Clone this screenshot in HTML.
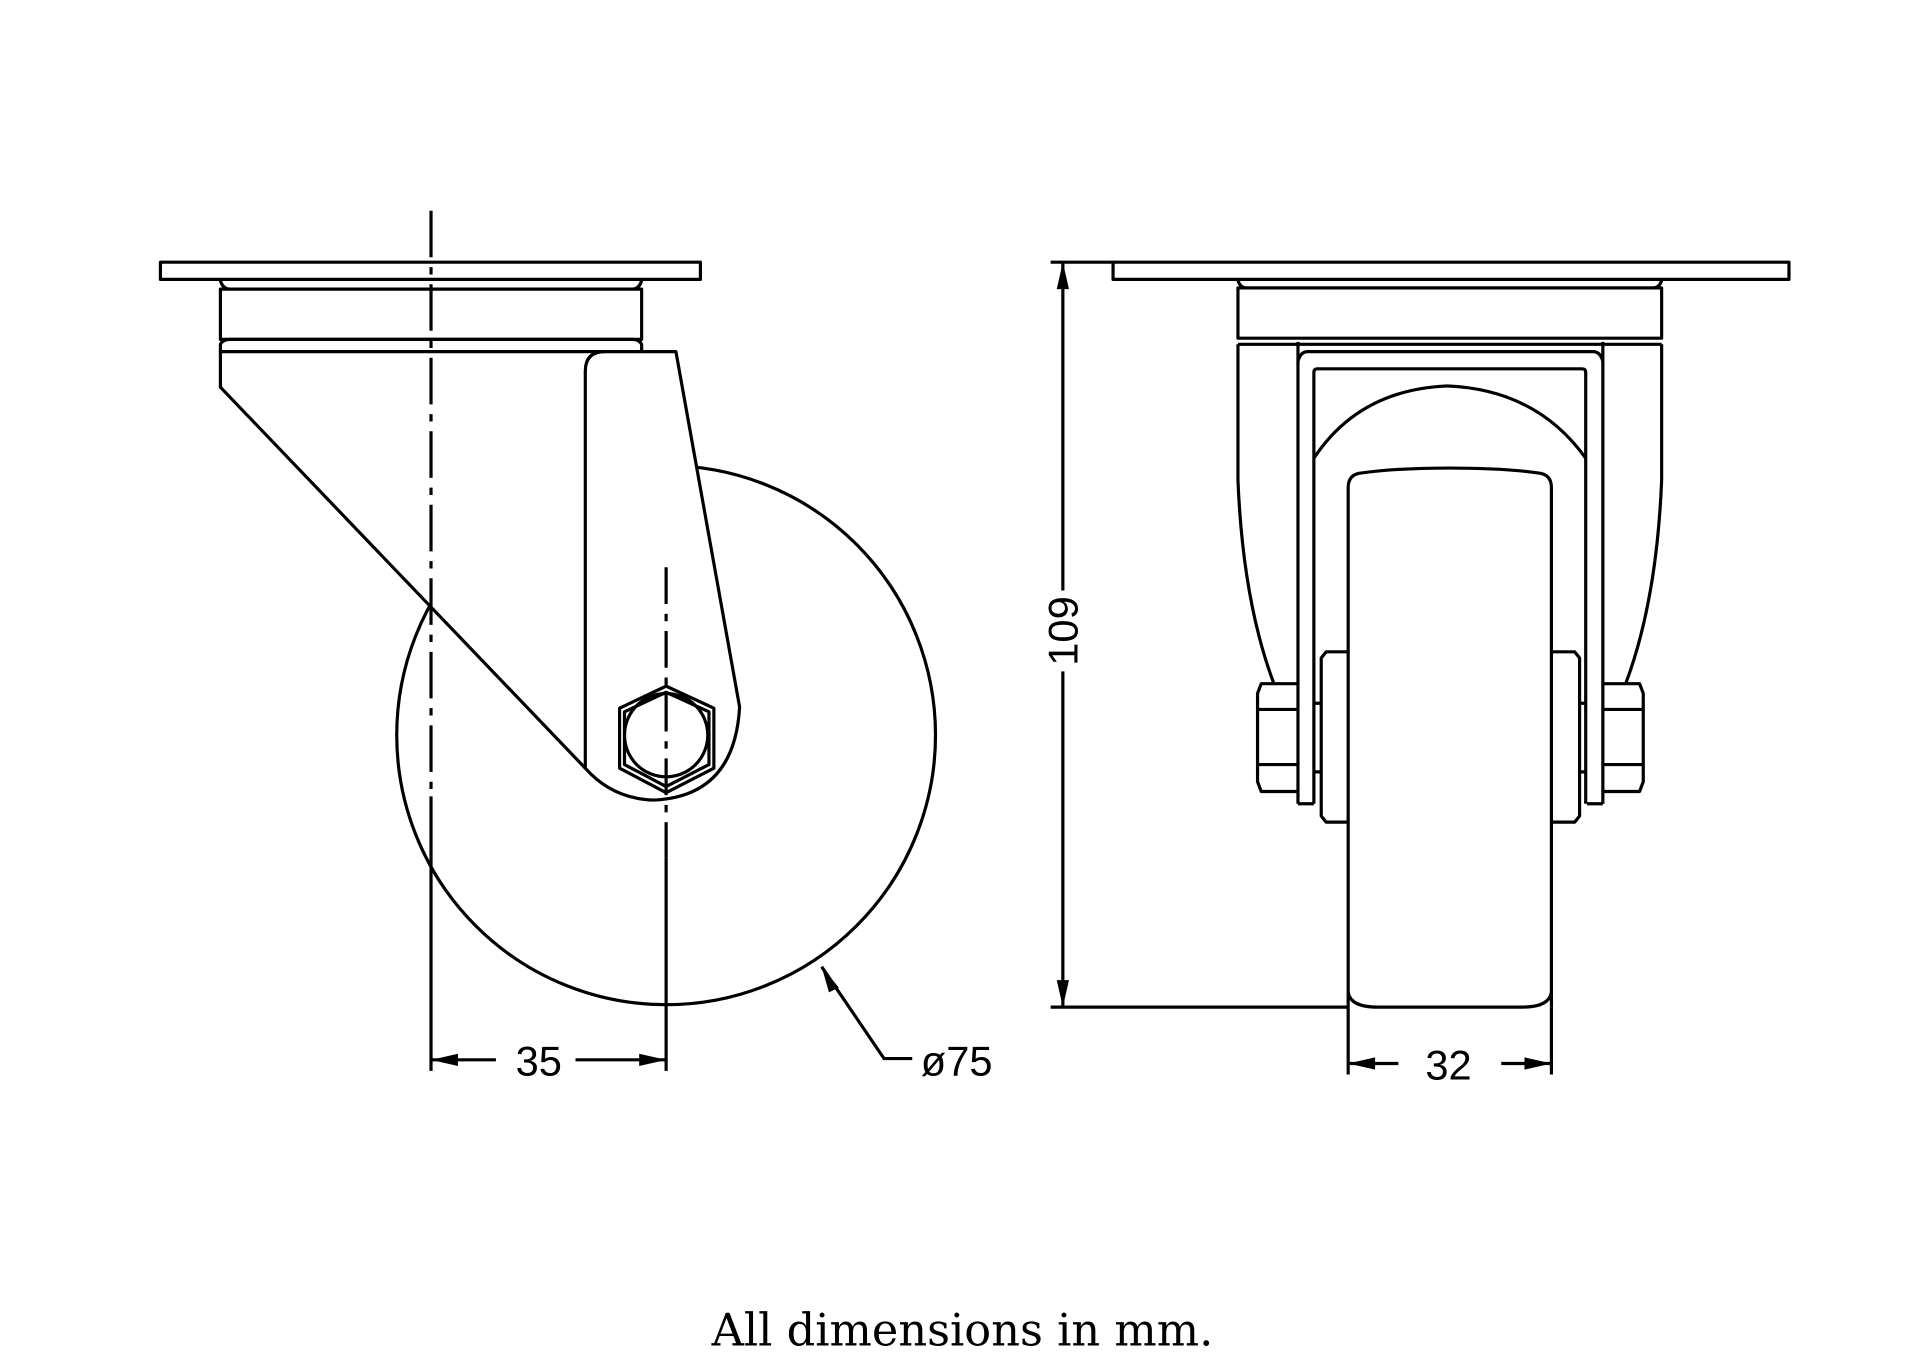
<!DOCTYPE html>
<html><head><meta charset="utf-8"><style>
html,body{margin:0;padding:0;background:#fff;}
svg{display:block;}
</style></head><body>
<svg width="1920" height="1360" viewBox="0 0 1568 1110" preserveAspectRatio="none" xmlns="http://www.w3.org/2000/svg">
<g fill="none" stroke="#000" stroke-width="2.6" stroke-linejoin="round">
<circle cx="544" cy="600" r="220"/>
<path d="M180,287 L180,316 L478,627 Q500,652 534,653 Q600,650 604,577 L552,287 Z" fill="#fff"/>
<path d="M478,627 L478,303 Q478,287 494,287"/>
<rect x="131" y="214" width="441" height="14" fill="#fff"/>
<path d="M180,229 Q182,236 188,236 L516,236 Q522,236 524,229"/>
<rect x="180" y="236" width="344" height="41" fill="#fff"/>
<path d="M180,287 L180,281 Q182,277 188,277 L516,277 Q522,277 524,281 L524,287"/>
<polygon points="544,560 583,578 583,627 544,647 506,627 506,578" fill="#fff"/>
<polygon points="544,565 579,581 579,624 544,642 510,624 510,581"/>
<circle cx="544" cy="600" r="34"/>
<path d="M352,172 L352,650" stroke-dasharray="38,8,6,8"/>
<path d="M352,650 L352,874"/>
<path d="M544,463 L544,700" stroke-dasharray="30,8,6,8"/>
<path d="M544,700 L544,874"/>
<line x1="352" y1="865" x2="405" y2="865"/>
<line x1="470" y1="865" x2="544" y2="865"/>
<polyline points="671,789 722,864 745,864"/>
<path d="M1011,281 L1011,392 Q1015,490 1040,557 M1357,281 L1357,392 Q1353,490 1328,557"/>
<rect x="909" y="214" width="552" height="14" fill="#fff"/>
<path d="M1011,229 Q1013,235 1018,235 L1350,235 Q1355,235 1357,229"/>
<rect x="1011" y="235" width="346" height="41"/>
<line x1="1011" y1="281" x2="1357" y2="281"/>
<path d="M1060,656 L1060,279 M1309,656 L1309,279 M1060,656 L1073,656 M1296,656 L1309,656"/>
<path d="M1060,295 Q1062,287 1068,287 L1301,287 Q1307,287 1309,295"/>
<path d="M1073,656 L1073,304 Q1073,301 1076,301 L1292,301 Q1295,301 1295,304 L1295,656"/>
<path d="M1073,374 Q1110,318 1182,315 Q1255,318 1295,374"/>
<path d="M1060,558 L1030,558 L1027,566 L1027,638 L1030,646 L1060,646 M1027,579 L1060,579 M1027,624 L1060,624"/>
<path d="M1309,558 L1339,558 L1342,566 L1342,638 L1339,646 L1309,646 M1342,579 L1309,579 M1342,624 L1309,624"/>
<path d="M1073,574 L1079,574 M1073,630 L1079,630 M1290,574 L1295,574 M1290,630 L1295,630"/>
<path d="M1101,532 L1083,532 L1079,537 L1079,666 L1083,671 L1101,671"/>
<path d="M1267,532 L1286,532 L1290,537 L1290,666 L1286,671 L1267,671"/>
<path d="M1101,822 L1101,398 Q1101,387 1112,386 Q1140,382 1184,382 Q1228,382 1256,386 Q1267,387 1267,398 L1267,822" fill="#fff"/>
<path d="M1101,810 Q1103,822 1125,822 L1243,822 Q1265,822 1267,810"/>
<line x1="858" y1="214" x2="909" y2="214"/>
<line x1="858" y1="822" x2="1101" y2="822"/>
<line x1="868" y1="214" x2="868" y2="482"/>
<line x1="868" y1="548" x2="868" y2="822"/>
<line x1="1101" y1="822" x2="1101" y2="877"/>
<line x1="1267" y1="822" x2="1267" y2="877"/>
<line x1="1101" y1="868" x2="1142" y2="868"/>
<line x1="1226" y1="868" x2="1267" y2="868"/>
</g>
<g fill="#000" stroke="none">
<polygon points="352,865 374,860 374,870"/>
<polygon points="544,865 522,860 522,870"/>
<polygon points="671,789 685,806 677,810"/>
<polygon points="868,214 863,236 873,236"/>
<polygon points="868,822 863,800 873,800"/>
<polygon points="1101,868 1123,863 1123,873"/>
<polygon points="1267,868 1245,863 1245,873"/>
</g>
<g font-family="Liberation Sans, sans-serif" font-size="34" fill="#000">
<text x="440" y="878" text-anchor="middle">35</text>
<text x="752" y="878">ø75</text>
<text x="1183" y="881" text-anchor="middle">32</text>
<text x="0" y="0" text-anchor="middle" transform="translate(880,515) rotate(-90)">109</text>
</g>
<text x="786" y="1098" text-anchor="middle" font-family="DejaVu Serif, serif" font-size="36.5" fill="#000">All dimensions in mm.</text>
</svg>
</body></html>
